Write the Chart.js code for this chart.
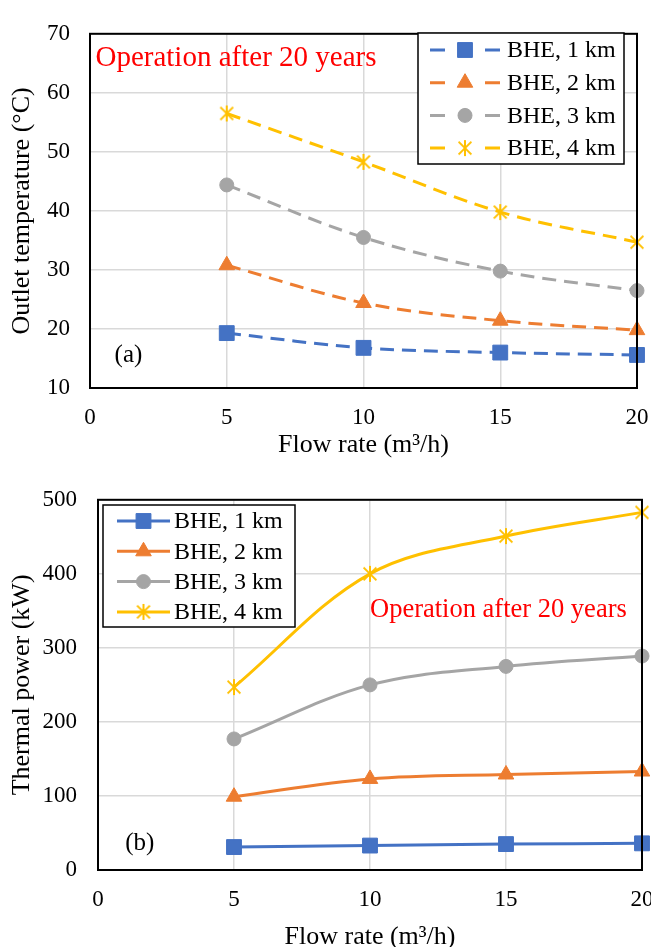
<!DOCTYPE html>
<html>
<head>
<meta charset="utf-8">
<script src="https://cdn.jsdelivr.net/npm/chart.js@4/dist/chart.umd.min.js"></script>
<style>
  html, body { margin: 0; padding: 0; background: #fff; overflow: hidden; width: 651px; height: 947px; }
  canvas { position: absolute; left: 0; }
  #tempChart { top: 0; }
  #powerChart { top: 465px; }
</style>
</head>
<body>
<canvas id="tempChart" width="680" height="465"></canvas>
<canvas id="powerChart" width="680" height="492"></canvas>
<script>
// flow rate (m3/h)
const flowRates = [5, 10, 15, 20];
const seriesNames = ['BHE, 1 km', 'BHE, 2 km', 'BHE, 3 km', 'BHE, 4 km'];

// outlet temperature after 20 years (°C)
const temp1km = [19.3, 16.8, 16.0, 15.6];
const temp2km = [30.8, 24.4, 21.4, 19.8];
const temp3km = [44.4, 35.5, 29.8, 26.5];
const temp4km = [56.5, 48.3, 39.8, 34.7];

// thermal power after 20 years (kW)
const power1km = [31, 33, 35, 36];
const power2km = [99, 123, 129, 133];
const power3km = [177, 250, 275, 289];
const power4km = [247, 400, 451, 483];

const xTicks = [0, 5, 10, 15, 20];

const COLORS = ['#4472C4', '#ED7D31', '#A5A5A5', '#FFC000'];
const FONT = "'Liberation Serif', 'Times New Roman', serif";

// Excel style asterisk marker
function asterisk(color, size)
{
  let cnv = document.createElement('canvas');
  cnv.width = size; cnv.height = size;
  let ctx = cnv.getContext('2d');
  let c = size / 2, r = size / 2 - 1;
  ctx.strokeStyle = color;
  ctx.lineWidth = 2;
  ctx.beginPath();
  ctx.moveTo(c, c - r); ctx.lineTo(c, c + r);
  ctx.moveTo(c - r * 0.8, c - r * 0.8); ctx.lineTo(c + r * 0.8, c + r * 0.8);
  ctx.moveTo(c + r * 0.8, c - r * 0.8); ctx.lineTo(c - r * 0.8, c + r * 0.8);
  ctx.stroke();
  return cnv;
}

const MARKERS = [
  { style: 'rect', radius: 10.5 },
  { style: 'triangle', radius: 9 },
  { style: 'circle', radius: 7 },
  { style: asterisk(COLORS[3], 18), radius: 9 }
];

function makeDatasets(values, dashed)
{
  return values.map((vals, i) => ({
    label: seriesNames[i],
    data: vals.map((v, k) => ({ x: flowRates[k], y: v })),
    borderColor: COLORS[i],
    backgroundColor: COLORS[i],
    borderWidth: 3,
    borderDash: dashed ? [14, 8] : [],
    pointStyle: MARKERS[i].style,
    pointRadius: MARKERS[i].radius,
    pointBorderWidth: i == 3 ? 0 : 1,
    tension: 0.35,
    clip: false
  }));
}

// plot frame + Excel-like legend + annotation text
const decorations = {
  id: 'decorations',
  afterDraw(chart, args, opts)
  {
    let ctx = chart.ctx;
    let area = chart.chartArea;

    ctx.save();
    ctx.strokeStyle = '#000';
    ctx.lineWidth = 2;
    ctx.strokeRect(area.left, area.top, area.right - area.left, area.bottom - area.top);

    // legend box
    let lg = opts.legend;
    ctx.fillStyle = '#fff';
    ctx.fillRect(lg.x, lg.y, lg.w, lg.h);
    ctx.lineWidth = 1.5;
    ctx.strokeRect(lg.x, lg.y, lg.w, lg.h);

    chart.data.datasets.forEach((ds, i) => {
      let y = lg.y + lg.first + i * lg.step;
      let x0 = lg.x + lg.lineStart, x1 = x0 + lg.lineLen;
      let xm = (x0 + x1) / 2;
      ctx.strokeStyle = ds.borderColor;
      ctx.fillStyle = ds.backgroundColor;
      ctx.lineWidth = 3;
      ctx.beginPath();
      if (opts.dashed)
      {
        ctx.moveTo(x0, y); ctx.lineTo(x0 + 15, y);
        ctx.moveTo(x1 - 15, y); ctx.lineTo(x1, y);
      }
      else
      {
        ctx.moveTo(x0, y); ctx.lineTo(x1, y);
      }
      ctx.stroke();
      ctx.lineWidth = ds.pointBorderWidth;
      Chart.helpers.drawPoint(ctx, {
        pointStyle: ds.pointStyle,
        radius: ds.pointRadius,
        borderWidth: ds.pointBorderWidth,
        rotation: 0
      }, xm, y);
      ctx.fillStyle = '#000';
      ctx.font = '24px ' + FONT;
      ctx.textBaseline = 'middle';
      ctx.textAlign = 'left';
      ctx.fillText(ds.label, x1 + lg.textGap, y + 1);
    });

    // annotation texts, placed in data coordinates
    let xs = chart.scales.x, ys = chart.scales.y;
    opts.texts.forEach(t => {
      ctx.font = t.size + 'px ' + FONT;
      ctx.fillStyle = t.color;
      ctx.textBaseline = 'middle';
      ctx.textAlign = 'left';
      ctx.fillText(t.text, xs.getPixelForValue(t.x), ys.getPixelForValue(t.y));
    });
    ctx.restore();
  }
};

function axisOptions(yMin, yMax, yStep, yTitle, yWidth, xHeight, yPad)
{
  return {
    x: {
      type: 'linear', min: 0, max: 20,
      afterBuildTicks: (s) => { s.ticks = xTicks.map(v => ({ value: v })); },
      afterFit: (s) => { s.height = xHeight; },
      grid: { color: '#d9d9d9', lineWidth: 1.5, drawTicks: false },
      border: { display: false },
      ticks: { color: '#000', padding: 16, font: { family: FONT, size: 23 } },
      title: {
        display: true, text: 'Flow rate (m³/h)', color: '#000',
        font: { family: FONT, size: 26 }, padding: { top: 0, bottom: 4 }
      }
    },
    y: {
      min: yMin, max: yMax,
      afterFit: (s) => { s.width = yWidth; },
      grid: { color: '#d9d9d9', lineWidth: 1.5, drawTicks: false },
      border: { display: false },
      ticks: { stepSize: yStep, color: '#000', padding: yPad, font: { family: FONT, size: 23 } },
      title: {
        display: true, text: yTitle, color: '#000',
        font: { family: FONT, size: 26 }, padding: { top: 7, bottom: 0 }
      }
    }
  };
}

new Chart(document.getElementById('tempChart'), {
  type: 'line',
  data: { datasets: makeDatasets([temp1km, temp2km, temp3km, temp4km], true) },
  options: {
    responsive: false,
    animation: false,
    layout: { padding: { left: 0, right: 43, top: 22, bottom: 0 } },
    scales: axisOptions(10, 70, 10, 'Outlet temperature (°C)', 90, 77, 20),
    plugins: {
      legend: { display: false },
      tooltip: { enabled: false },
      decorations: {
        dashed: true,
        legend: { x: 418, y: 33, w: 206, h: 131, first: 17, step: 32.7, lineStart: 12, lineLen: 70, textGap: 7 },
        texts: [
          { text: 'Operation after 20 years', x: 0.2, y: 65.9, size: 29, color: '#FF0000' },
          { text: '(a)', x: 0.9, y: 15.5, size: 25, color: '#000' }
        ]
      }
    }
  },
  plugins: [decorations]
});

new Chart(document.getElementById('powerChart'), {
  type: 'line',
  data: { datasets: makeDatasets([power1km, power2km, power3km, power4km], false) },
  options: {
    responsive: false,
    animation: false,
    layout: { padding: { left: 0, right: 38, top: 34, bottom: 0 } },
    scales: axisOptions(0, 500, 100, 'Thermal power (kW)', 98, 87, 21),
    plugins: {
      legend: { display: false },
      tooltip: { enabled: false },
      decorations: {
        dashed: false,
        legend: { x: 103, y: 40, w: 192, h: 122, first: 16, step: 30.3, lineStart: 14, lineLen: 53, textGap: 4 },
        texts: [
          { text: 'Operation after 20 years', x: 10, y: 351, size: 26.5, color: '#FF0000' },
          { text: '(b)', x: 1, y: 36, size: 25, color: '#000' }
        ]
      }
    }
  },
  plugins: [decorations]
});
</script>
</body>
</html>
